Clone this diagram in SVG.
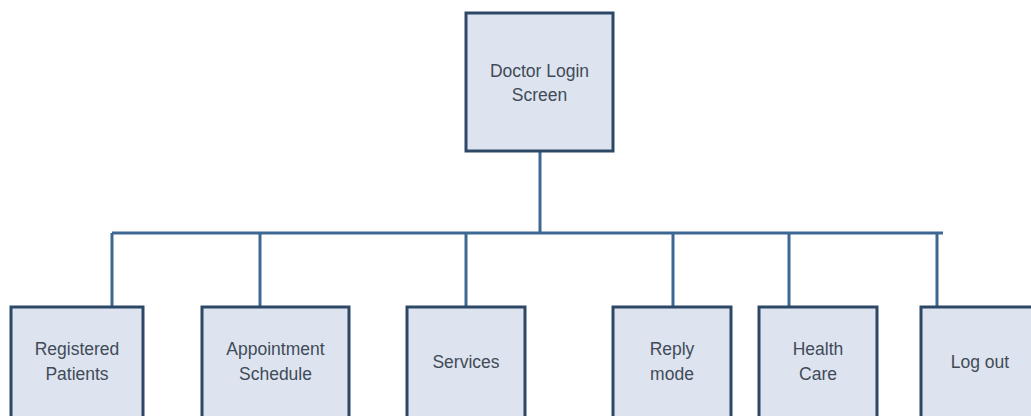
<svg xmlns="http://www.w3.org/2000/svg" width="1031" height="416" viewBox="0 0 1031 416">
<style>
.box{fill:#dde4ef;stroke:#2c4866;stroke-width:3}
.lbl{font-family:"Liberation Sans",Arial,sans-serif;font-size:17.5px;fill:#414b58;text-anchor:middle}
.conn{stroke:#3d6894;stroke-width:3;fill:none}
</style>
<rect width="1031" height="416" fill="#ffffff"/>
<g id="connectors">
<path class="conn" d="M540 151 V233"/>
<path class="conn" d="M112 233 H943"/>
<path class="conn" d="M112 233 V307"/>
<path class="conn" d="M260 233 V307"/>
<path class="conn" d="M466 233 V307"/>
<path class="conn" d="M673 233 V307"/>
<path class="conn" d="M789 233 V307"/>
<path class="conn" d="M937 233 V307"/>
</g>
<g id="doctor-login">
<rect class="box" x="466" y="13" width="147" height="138"/>
<text class="lbl" x="539.5" y="77">Doctor Login</text>
<text class="lbl" x="539.5" y="101">Screen</text>
</g>
<g id="registered-patients">
<rect class="box" x="11" y="307" width="132" height="115"/>
<text class="lbl" x="77" y="355">Registered</text>
<text class="lbl" x="77" y="380">Patients</text>
</g>
<g id="appointment-schedule">
<rect class="box" x="202" y="307" width="147" height="115"/>
<text class="lbl" x="275.5" y="355">Appointment</text>
<text class="lbl" x="275.5" y="380">Schedule</text>
</g>
<g id="services">
<rect class="box" x="407" y="307" width="118" height="115"/>
<text class="lbl" x="466" y="368">Services</text>
</g>
<g id="reply-mode">
<rect class="box" x="613" y="307" width="118" height="115"/>
<text class="lbl" x="672" y="355">Reply</text>
<text class="lbl" x="672" y="380">mode</text>
</g>
<g id="health-care">
<rect class="box" x="759" y="307" width="118" height="115"/>
<text class="lbl" x="818" y="355">Health</text>
<text class="lbl" x="818" y="380">Care</text>
</g>
<g id="log-out">
<rect class="box" x="921" y="307" width="118" height="115"/>
<text class="lbl" x="980" y="368">Log out</text>
</g>
</svg>
